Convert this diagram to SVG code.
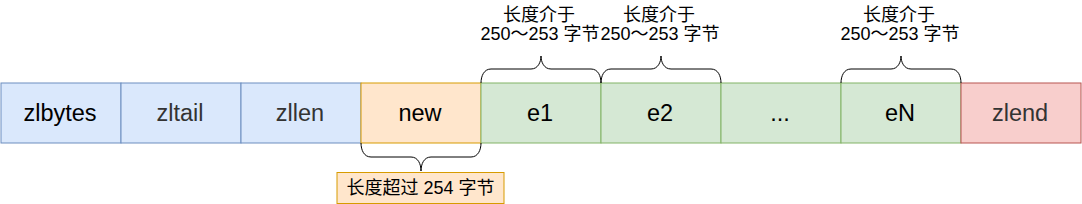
<svg xmlns="http://www.w3.org/2000/svg" width="1082" height="204" viewBox="0 0 1082 204">
<style>
text{font-family:"Liberation Sans","Noto Sans CJK SC",sans-serif;text-anchor:middle}
.lbl{font-size:23.5px;fill:#333}
.dk{fill:#000}
.note{font-size:18px;fill:#000}
.blue{fill:#dae8fc;stroke:#6c8ebf}
.orange{fill:#ffe6cc;stroke:#d79b00}
.green{fill:#d5e8d4;stroke:#82b366}
.red{fill:#f8cecc;stroke:#b85450}
.brace{fill:none;stroke:#000;stroke-width:1}
</style>
<rect width="1082" height="204" fill="#fff"/>
<g id="zlbytes"><rect class="blue" x="1" y="83" width="120" height="60"/><text class="lbl dk" x="60" y="121">zlbytes</text></g>
<g id="zltail"><rect class="blue" x="121" y="83" width="120" height="60"/><text class="lbl" x="180" y="121">zltail</text></g>
<g id="zllen"><rect class="blue" x="241" y="83" width="120" height="60"/><text class="lbl" x="300" y="121">zllen</text></g>
<g id="new"><rect class="orange" x="361" y="83" width="120" height="60"/><text class="lbl dk" x="420" y="121">new</text></g>
<g id="e1"><rect class="green" x="481" y="83" width="120" height="60"/><text class="lbl dk" x="540" y="121">e1</text></g>
<g id="e2"><rect class="green" x="601" y="83" width="120" height="60"/><text class="lbl dk" x="660" y="121">e2</text></g>
<g id="dots"><rect class="green" x="721" y="83" width="120" height="60"/><text class="lbl dk" x="780" y="121">...</text></g>
<g id="eN"><rect class="green" x="841" y="83" width="120" height="60"/><text class="lbl dk" x="900" y="121">eN</text></g>
<g id="zlend"><rect class="red" x="961" y="83" width="120" height="60"/><text class="lbl" x="1020" y="121">zlend</text></g>
<g id="connectors">
<path class="brace" d="M481,83 C481,76 484,69 491,69 L531,69 C538,69 541,62 541,56 C541,62 544,69 551,69 L591,69 C598,69 601,76 601,83"/>
<path class="brace" d="M601,83 C601,76 604,69 611,69 L651,69 C658,69 661,62 661,56 C661,62 664,69 671,69 L711,69 C718,69 721,76 721,83"/>
<path class="brace" d="M841,83 C841,76 844,69 851,69 L891,69 C898,69 901,62 901,56 C901,62 904,69 911,69 L951,69 C958,69 961,76 961,83"/>
<path class="brace" d="M361,143 C361,150 364,157 371,157 L411,157 C418,157 421,164 421,171 C421,164 424,157 431,157 L471,157 C478,157 481,150 481,143"/>
</g>
<g id="label-e1"><text class="note" x="539" y="21">长度介于</text><text class="note" x="540" y="40">250～253 字节</text></g>
<g id="label-e2"><text class="note" x="659" y="21">长度介于</text><text class="note" x="660" y="40">250～253 字节</text></g>
<g id="label-eN"><text class="note" x="899" y="21">长度介于</text><text class="note" x="900" y="40">250～253 字节</text></g>
<g id="label-new"><rect class="orange" x="337" y="172.5" width="167" height="31"/><text class="note" x="420.5" y="194">长度超过 254 字节</text></g>
</svg>
